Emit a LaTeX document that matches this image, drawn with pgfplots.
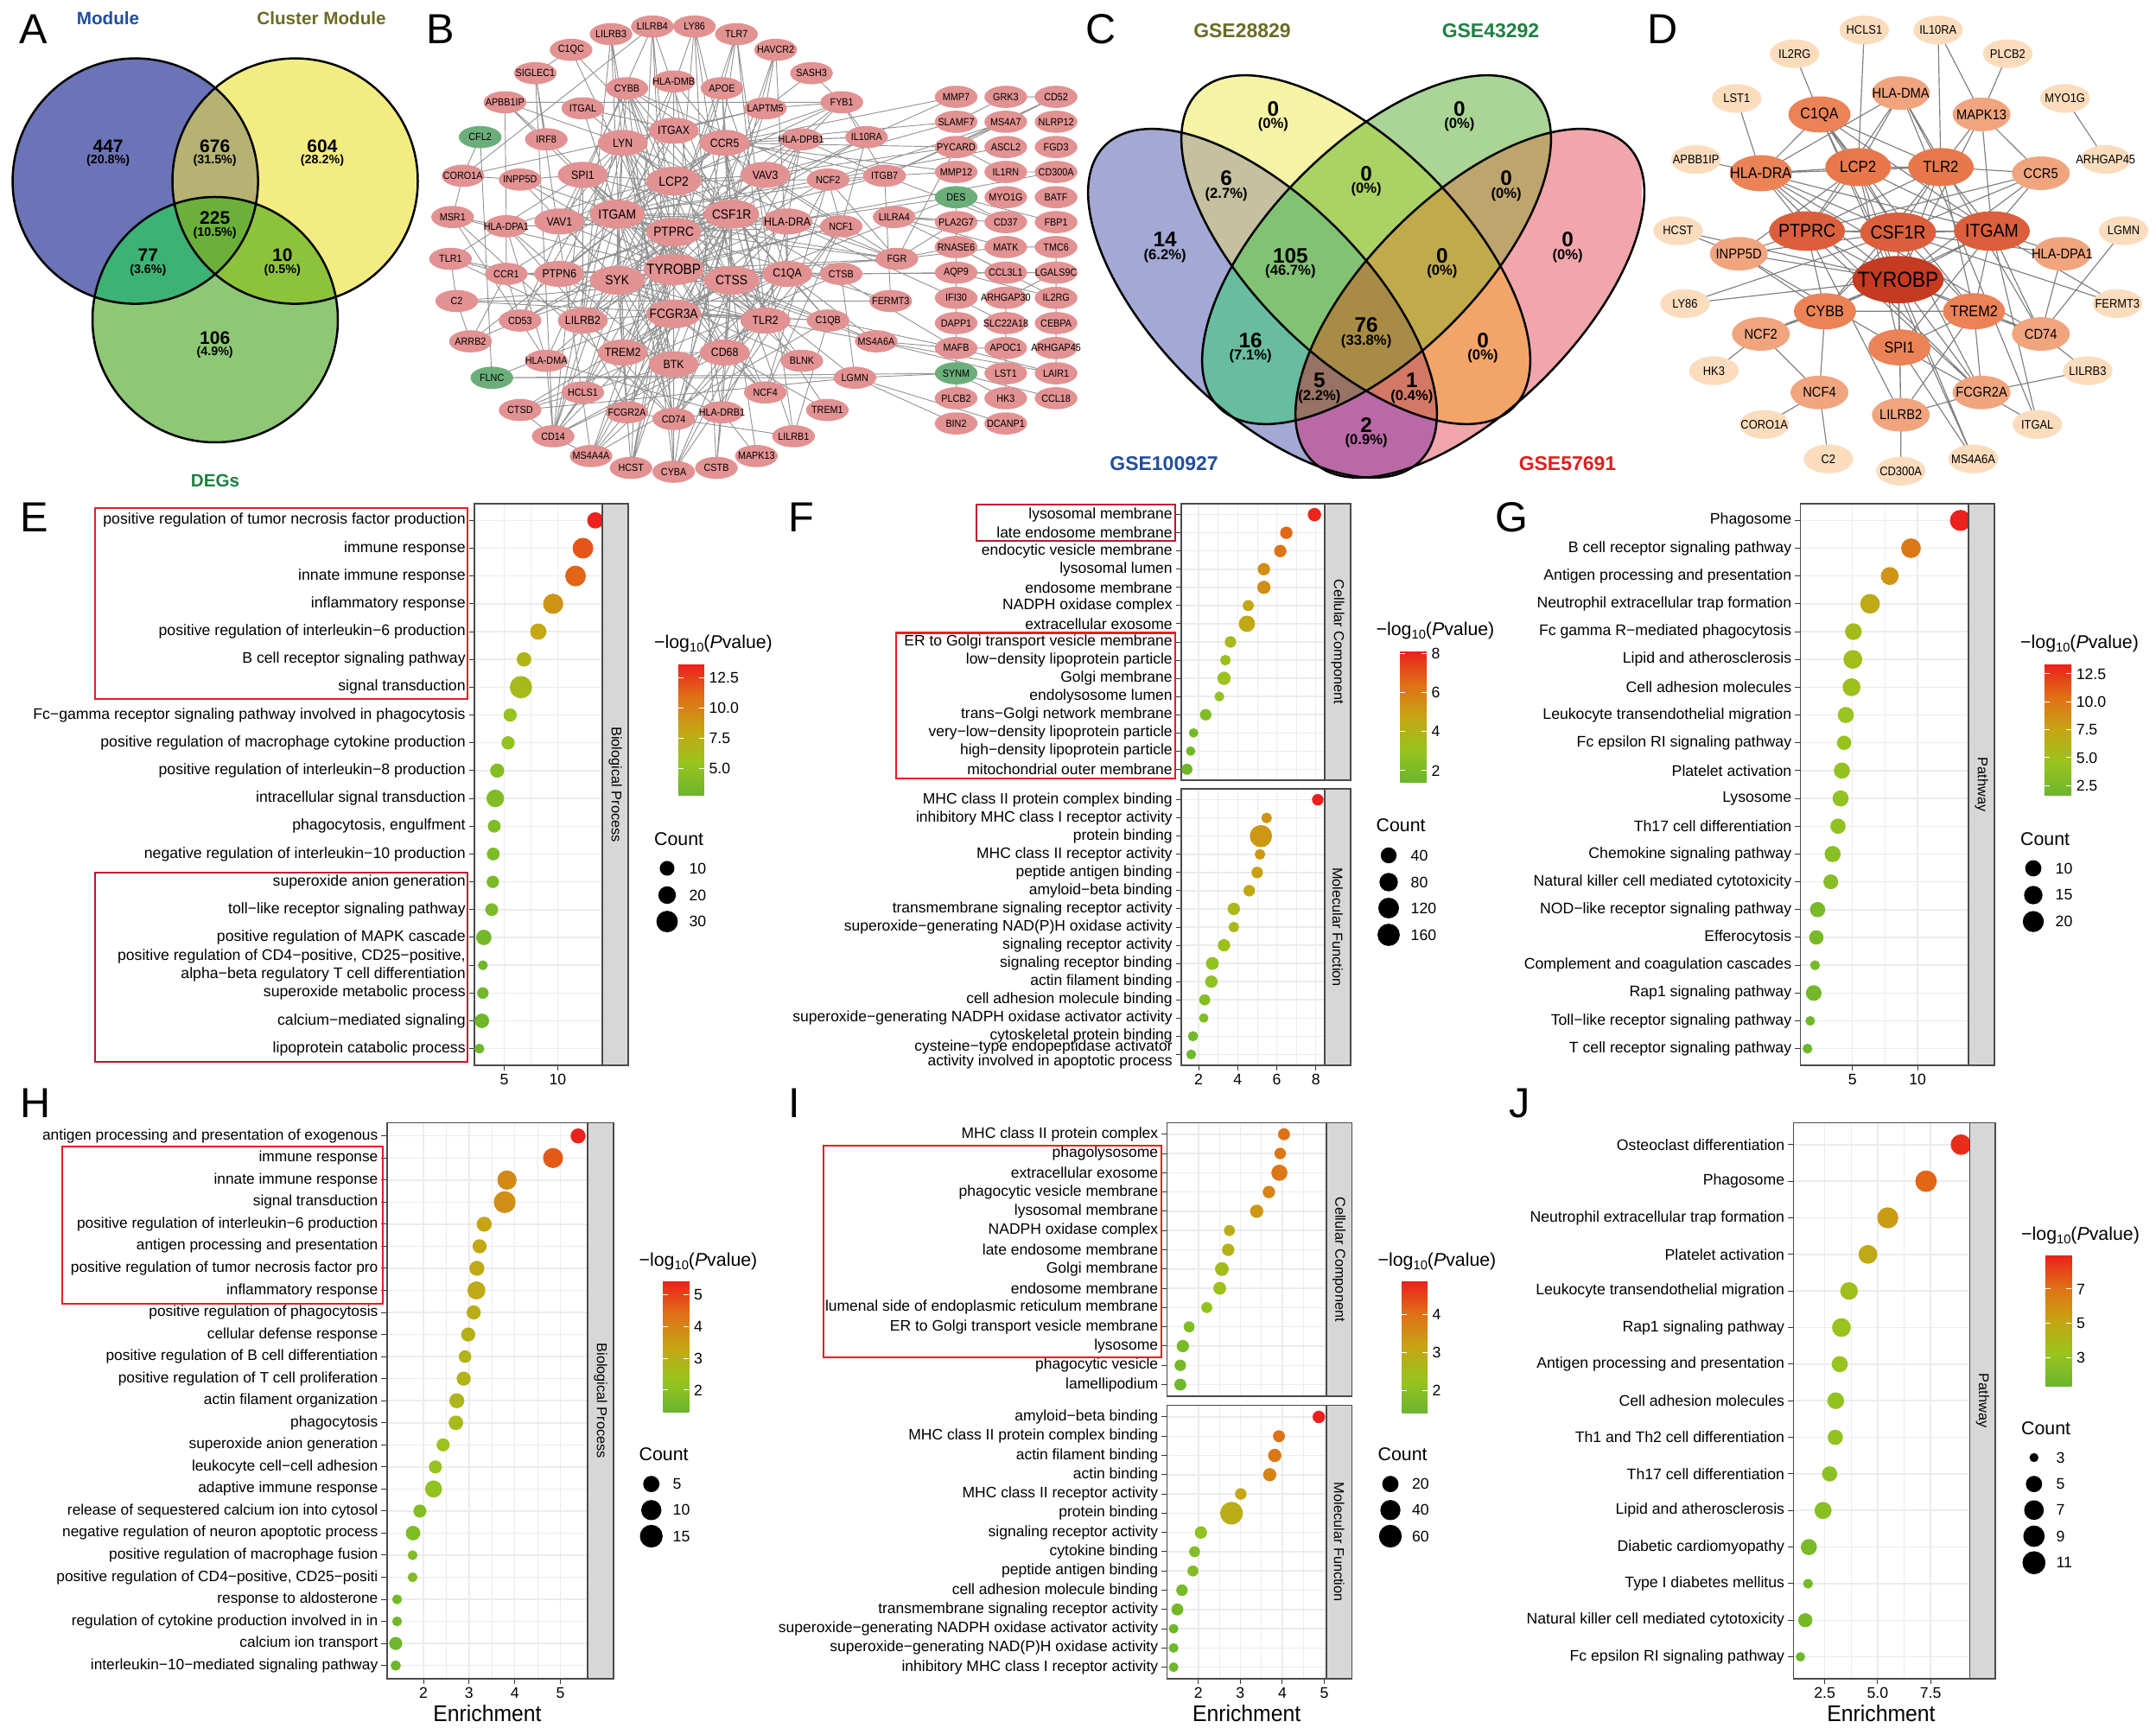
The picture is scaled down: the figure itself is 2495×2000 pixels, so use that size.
\documentclass[border=0pt]{standalone}
\usepackage{fontspec}
\setmainfont{Liberation Sans}
\newfontfamily\fa[FakeStretch=0.94]{Liberation Sans}
\newfontfamily\netf[FakeStretch=0.9]{Liberation Sans}
\usepackage{pgfplots}
\usepackage{pgfplotstable}
\pgfplotsset{compat=1.18}

% colours
\definecolor{pinkn}{RGB}{226,146,146}
\definecolor{greenn}{RGB}{107,174,122}
\definecolor{framec}{RGB}{74,74,74}
\definecolor{stripc}{RGB}{215,215,215}
\definecolor{gridc}{RGB}{236,236,236}
\definecolor{boxa}{RGB}{232,28,36}
\definecolor{boxb}{RGB}{196,18,48}
\pgfplotsset{colormap={gp}{rgb255=(106,181,45) rgb255=(152,196,30) rgb255=(198,165,20) rgb255=(224,112,22) rgb255=(235,32,28)}}

% network helpers: node table and edges are kept by gene name
\pgfdeclareplotmark{ell}{\pgfpathellipse{\pgfpointorigin}{\pgfqpoint{\pgfplotmarksize}{0pt}}{\pgfqpoint{0pt}{0.52\pgfplotmarksize}}\pgfusepathqfill}
\pgfdeclareplotmark{ellr}{\pgfpathellipse{\pgfpointorigin}{\pgfqpoint{\pgfplotmarksize}{0pt}}{\pgfqpoint{0pt}{0.58\pgfplotmarksize}}\pgfusepathqfill}
\newcommand\nd[5]{%
  \expandafter\gdef\csname n#1@#3\endcsname{(#4,#5)}%
  \expandafter\ifx\csname g#1#2\endcsname\relax\expandafter\gdef\csname g#1#2\endcsname{}\fi
  \expandafter\xdef\csname g#1#2\endcsname{\csname g#1#2\endcsname (#4,#5) [#3]}}
\def\ndloop#1#2#3/#4/#5,{\ifx\relax#3\let\nx\relax\else\nd{#1}{#2}{#3}{#4}{#5}\def\nx{\ndloop{#1}{#2}}\fi\nx}
\newcommand\ndrow[3]{\ndloop{#1}{#2}#3,\relax/0/0,}
\def\hubloop#1#2#3,{\ifx\relax#3\let\nx\relax\else
  \expandafter\xdef\csname e#1\endcsname{\csname e#1\endcsname \csname n#1@#2\endcsname \csname n#1@#3\endcsname (0,nan) }%
  \def\nx{\hubloop{#1}{#2}}\fi\nx}
\newcommand\hub[3]{\hubloop{#1}{#2}#3,\relax,}
\gdef\eB{}\gdef\eD{}
\newcommand\drawedges[2]{\edef\tmp{\noexpand\addplot[#2, forget plot, unbounded coords=jump, no marks] coordinates {\csname e#1\endcsname};}\tmp}
\newcommand\drawnodes[5][ell]{\pgfmathsetmacro\ms{#4*0.3}%
  \edef\tmp{\noexpand\addplot[only marks, mark=#1, mark size=\ms pt, color=#3, mark options={fill=#3,draw=none}, point meta=explicit symbolic, nodes near coords, nodes near coords align={anchor=center}, every node near coord/.append style={inner sep=0pt,black,font=\noexpand\netf\noexpand\fontsize{#5}{#5}\noexpand\selectfont}] coordinates {\csname g#2\endcsname};}\tmp}

% panel B nodes (digitised positions)
\ndrow{B}{S}{LILRB3/887/107,LILRB4/947/83,LY86/1008/83,TLR7/1069/107,C1QC/829/156,HAVCR2/1126/156,SIGLEC1/777/229,SASH3/1178/229,APBB1IP/733/320,ITGAL/846/339,CYBB/910/276,HLA-DMB/978/255,APOE/1048/276,LAPTM5/1111/339,FYB1/1222/320,IL10RA/1258/429,IRF8/793/436,HLA-DPB1/1163/436,CORO1A/672/550,INPP5D/755/562,NCF2/1202/562,ITGB7/1284/550,MSR1/657/679,HLA-DPA1/735/708,NCF1/1221/708,LILRA4/1298/679,TLR1/654/810,CCR1/735/857,CTSB/1221/857,FGR/1302/810,C2/663/942,FERMT3/1293/942,ARRB2/683/1068,CD53/755/1003,C1QB/1202/1003,MS4A6A/1272/1068,HLA-DMA/793/1129,BLNK/1164/1129,LGMN/1241/1182,CTSD/755/1283,HCLS1/846/1228,NCF4/1111/1228,TREM1/1201/1283,FCGR2A/910/1290,HLA-DRB1/1048/1290,CD74/978/1311,CD14/803/1365,LILRB1/1152/1365,MS4A4A/858/1427,MAPK13/1098/1427,HCST/916/1464,CSTB/1040/1464,CYBA/978/1476}
\ndrow{B}{S}{MMP7/1388/303,GRK3/1460/303,CD52/1533/303,SLAMF7/1388/381,MS4A7/1460/381,NLRP12/1533/381,PYCARD/1388/460,ASCL2/1460/460,FGD3/1533/460,MMP12/1388/538,IL1RN/1460/538,CD300A/1533/538,MYO1G/1460/617,BATF/1533/617,PLA2G7/1388/695,CD37/1460/695,FBP1/1533/695,RNASE6/1388/773,MATK/1460/773,TMC6/1533/773,AQP9/1388/853,CCL3L1/1460/853,LGALS9C/1533/853,IFI30/1388/932,ARHGAP30/1460/932,IL2RG/1533/932,DAPP1/1388/1011,SLC22A18/1460/1011,CEBPA/1533/1011,MAFB/1388/1089,APOC1/1460/1089,ARHGAP45/1533/1089,LST1/1460/1168,LAIR1/1533/1168,PLCB2/1388/1246,HK3/1460/1246,CCL18/1533/1246,BIN2/1388/1325,DCANP1/1460/1325}
\ndrow{B}{G}{CFL2/697/429,FLNC/714/1182,DES/1388/617,SYNM/1388/1168}
\ndrow{B}{M}{VAV3/1111/547,SPI1/846/547,LYN/904/447,ITGAX/978/409,CCR5/1052/447,VAV1/812/693,HLA-DRA/1143/693,PTPN6/812/857,C1QA/1143/857,LILRB2/846/1003,TLR2/1111/1003,TREM2/904/1103,BTK/978/1140,CD68/1052/1103}
\ndrow{B}{L}{LCP2/978/567,ITGAM/896/670,CSF1R/1062/670,PTPRC/978/726,SYK/896/877,CTSS/1062/877,FCGR3A/978/982}
\ndrow{B}{X}{TYROBP/978/843}
% panel B edges
\hub{B}{TYROBP}{CSF1R,PTPRC,ITGAM,SYK,LCP2,CTSS,FCGR3A,C1QA,TLR2,SPI1,LYN,ITGAX,CCR5,VAV1,HLA-DRA,PTPN6,LILRB2,TREM2,CD68,BTK,CD74,CYBB,HCST,CD14,C1QB,C1QC,FCGR2A,MS4A6A,MS4A4A,LILRB4,LY86,TLR7,NCF1,NCF4,NCF2,INPP5D,HLA-DMB,FGR,CTSB,CD53,LAPTM5,CCR1,MSR1}
\hub{B}{CSF1R}{PTPRC,ITGAM,SYK,LCP2,CTSS,FCGR3A,TLR2,SPI1,LYN,ITGAX,CCR5,VAV1,HLA-DRA,PTPN6,LILRB2,TREM2,CD68,BTK,CD74,CYBB,C1QA,C1QB,FCGR2A,APOE,IL10RA,FYB1,LAPTM5,ITGB7,CD53,MAFB}
\hub{B}{PTPRC}{ITGAM,SYK,LCP2,FCGR3A,TLR2,LYN,ITGAX,VAV1,HLA-DRA,PTPN6,LILRB2,CD68,BTK,CD74,CYBB,VAV3,NCF1,HCST,FGR,HCLS1,CD53,INPP5D,FYB1,IL10RA}
\hub{B}{ITGAM}{SYK,LCP2,CTSS,FCGR3A,TLR2,SPI1,LYN,ITGAX,CCR5,VAV1,VAV3,HLA-DRA,PTPN6,TREM2,CD68,BTK,CD74,CD14,ITGAL,ITGB7,CYBB,FGR,FERMT3,NCF2}
\hub{B}{SYK}{LCP2,FCGR3A,TLR2,LYN,ITGAX,VAV1,VAV3,PTPN6,LILRB2,TREM2,BTK,CD74,BLNK,FCGR2A,FGR,HCLS1,INPP5D,NCF1}
\hub{B}{LCP2}{FCGR3A,LYN,VAV1,VAV3,PTPN6,BTK,HCLS1,ITGAL,FYB1,BLNK,CCR5,NCF2,SPI1}
\hub{B}{FCGR3A}{CTSS,TLR2,LYN,ITGAX,HLA-DRA,LILRB2,TREM2,CD68,BTK,CD74,C1QA,C1QB,FCGR2A,HCST,CYBA,NCF4,CD14,MS4A4A}
\hub{B}{TLR2}{CTSS,LYN,SPI1,CCR5,HLA-DRA,CD68,BTK,CD14,C1QA,LY86,TLR1,TLR7,CD74,HLA-DRB1,TREM1,NCF1,MS4A6A}
\hub{B}{CTSS}{C1QA,C1QB,CD68,CD74,HLA-DRA,CTSB,CTSD,LGMN,HLA-DRB1,CYBB,TREM2,APOE}
\hub{B}{C1QA}{C1QB,C1QC,CD68,TREM2,APOE,HLA-DRA,CD74,MS4A6A,MS4A4A,HAVCR2,CTSB}
\hub{B}{SPI1}{LYN,CYBB,VAV1,IRF8,LILRB2,TLR1,BLNK,INPP5D,CD14}
\hub{B}{LYN}{BTK,VAV1,PTPN6,FGR,LILRB2,ITGAX,LILRB3,LAPTM5,CD53,APBB1IP}
\hub{B}{CFL2}{CORO1A,FLNC}
\hub{B}{CORO1A}{INPP5D,LAPTM5,LILRB4,MSR1}
\hub{B}{APBB1IP}{FYB1,IRF8,ITGAM,HLA-DPA1}
\hub{B}{SIGLEC1}{C1QC,IRF8,CD14,MS4A4A}
\hub{B}{LILRB3}{LILRB2,CD74,FCGR2A}
\hub{B}{LILRB4}{LILRB1,HCST,CD53,CYBA}
\hub{B}{LY86}{CSTB,CD14,MAPK13}
\hub{B}{TLR7}{MS4A4A,LILRB1,CYBA}
\hub{B}{HAVCR2}{LAPTM5,CD74,HCST}
\hub{B}{SASH3}{FYB1,LAPTM5}
\hub{B}{FYB1}{LAPTM5,IL10RA,ITGB7,CCR5}
\hub{B}{IL10RA}{HLA-DPB1,CCR5,NCF1,MMP7}
\hub{B}{MSR1}{HLA-DPA1,CD74,HLA-DMA}
\hub{B}{HLA-DPA1}{HLA-DRA,HLA-DMA,HLA-DPB1,CD74,HLA-DRB1,CCR1}
\hub{B}{HLA-DMB}{HLA-DMA,CD74,HLA-DRB1,HLA-DRA}
\hub{B}{HLA-DPB1}{CD74,HLA-DRA,HLA-DRB1,HLA-DMA,ITGB7}
\hub{B}{TLR1}{C2,CCR1,LILRB2}
\hub{B}{C2}{C1QB,C1QA,ARRB2,FERMT3}
\hub{B}{ARRB2}{CCR1,CCR5,CD53}
\hub{B}{CCR1}{CCR5,PTPN6,CD53}
\hub{B}{NCF1}{NCF2,NCF4,CYBA,CYBB}
\hub{B}{NCF2}{NCF4,CYBA,CYBB,ITGB7,FGR}
\hub{B}{CYBB}{CYBA,NCF4,CD14}
\hub{B}{CTSB}{AQP9,LGALS9C,CTSD,LGMN}
\hub{B}{FLNC}{SYNM,LGMN,DES}
\hub{B}{LGMN}{BIN2,DCANP1,SYNM,CTSD}
\hub{B}{MS4A6A}{MAFB,LAIR1,C1QB,LST1}
\hub{B}{C1QB}{MAFB,MS4A4A,LILRB1}
\hub{B}{HCLS1}{CTSD,CD14,BTK}
\hub{B}{TREM2}{HCST,CD68,FCGR2A,LILRB2,APOE}
\hub{B}{CD68}{CD14,CYBA,NCF4,TREM1,CSTB}
\hub{B}{FCGR2A}{MS4A4A,HCST,LILRB1,LILRB2}
\hub{B}{HLA-DRB1}{CD74,HLA-DMA,CSTB,MAPK13}
\hub{B}{CD14}{CTSD,MS4A4A,HLA-DMA}
\hub{B}{ITGB7}{MMP12,CD52,MS4A7,ITGAL,FERMT3,CD37}
\hub{B}{VAV3}{SLAMF7,PYCARD,FGR}
\hub{B}{NCF2}{ASCL2,MS4A7}
\hub{B}{LILRA4}{RNASE6,PLA2G7,CD37,MATK}
\hub{B}{FGR}{PLA2G7,RNASE6,HLA-DRA,MATK,PYCARD}
\hub{B}{CCR5}{SLAMF7,MMP7,MMP12,PYCARD}
\hub{B}{DES}{SYNM,FBP1,CD37}
\hub{B}{HLA-DRA}{DES,CD300A,IFI30}
\hub{B}{AQP9}{CCL3L1,IL2RG}
\hub{B}{RNASE6}{CCL3L1,IL2RG,IFI30}
\hub{B}{TMC6}{CEBPA,MATK}
\hub{B}{GRK3}{SLAMF7,CD52}
\hub{B}{MS4A7}{PYCARD,CD52}
\hub{B}{IL1RN}{CD300A,PYCARD}
\hub{B}{LST1}{HK3,ARHGAP30}
\hub{B}{MAFB}{APOC1,LAIR1,SYNM,DAPP1,PLCB2}
\hub{B}{SYNM}{HK3,CCL18}
\hub{B}{IFI30}{DAPP1,SLC22A18}
\hub{B}{CEBPA}{ARHGAP45,LAIR1}
\hub{B}{ARHGAP30}{APOC1,LGALS9C}

% panel D nodes
\ndrow{D}{X}{TYROBP/1186/875}
\ndrow{D}{L}{CSF1R/1186/727,PTPRC/1054/723,ITGAM/1322/723}
\ndrow{D}{M}{LCP2/1128/523,TLR2/1248/523}
\ndrow{D}{N}{HLA-DRA/987/542,C1QA/1072/358,CYBB/1080/974,SPI1/1188/1087,TREM2/1296/974}
\ndrow{D}{P}{CCR5/1393/542,INPP5D/955/794,HLA-DPA1/1424/794,CD74/1393/1045,NCF2/987/1045,NCF4/1072/1228,LILRB2/1190/1298,FCGR2A/1307/1228,MAPK13/1307/358,HLA-DMA/1190/291}
\ndrow{D}{S}{HCLS1/1137/94,IL10RA/1244/94,IL2RG/1036/168,PLCB2/1345/168,LST1/952/308,MYO1G/1428/308,APBB1IP/893/499,ARHGAP45/1487/499,HCST/867/722,LGMN/1513/722,LY86/877/950,FERMT3/1504/950,HK3/919/1160,LILRB3/1461/1160,CORO1A/992/1328,ITGAL/1388/1328,C2/1085/1436,MS4A6A/1295/1436,CD300A/1190/1474}
% panel D edges
\hub{D}{TYROBP}{CSF1R,PTPRC,ITGAM,LCP2,TLR2,HLA-DRA,INPP5D,LY86,CYBB,TREM2,SPI1,LILRB2,FCGR2A,CD74,NCF2,HCST,MS4A6A,C1QA,CCR5,MAPK13}
\hub{D}{CSF1R}{PTPRC,ITGAM,LCP2,TLR2,HLA-DRA,INPP5D,LY86,CYBB,TREM2,SPI1,LILRB2,CCR5,FERMT3,FCGR2A,HLA-DPA1,C1QA}
\hub{D}{PTPRC}{LCP2,TLR2,HLA-DRA,INPP5D,CYBB,LILRB2,CCR5,FCGR2A,ITGAM,HLA-DMA}
\hub{D}{ITGAM}{LCP2,TLR2,HLA-DRA,HLA-DPA1,CYBB,TREM2,SPI1,CD74,ITGAL,CCR5,C1QA,FERMT3,MAPK13}
\hub{D}{LCP2}{TLR2,HLA-DRA,C1QA,HCLS1,INPP5D,SPI1,HLA-DMA}
\hub{D}{TLR2}{HLA-DRA,C1QA,IL10RA,MAPK13,CCR5,TREM2,HLA-DMA,CYBB}
\hub{D}{HLA-DRA}{APBB1IP,HLA-DMA,CD74,C1QA,LST1,FCGR2A}
\hub{D}{CYBB}{NCF2,NCF4,INPP5D,TREM2}
\hub{D}{TREM2}{LILRB2,FCGR2A,SPI1,CD74,C1QA}
\hub{D}{SPI1}{LILRB2,INPP5D,MS4A6A,FCGR2A}
\hub{D}{FCGR2A}{LILRB2,LILRB3,ITGAL}
\hub{D}{C1QA}{IL2RG,MS4A6A}
\hub{D}{HLA-DMA}{CD74,ITGAL}
\hub{D}{MAPK13}{PLCB2,IL10RA,CCR5}
\hub{D}{NCF4}{NCF2,CORO1A,C2}
\hub{D}{NCF2}{HK3}
\hub{D}{CD74}{LILRB3,LGMN,HLA-DPA1}
\hub{D}{INPP5D}{HCST}
\hub{D}{MYO1G}{ARHGAP45}
\hub{D}{LILRB2}{CD300A}

% data: enrichment, -log10 P, dot diameter in picture pixels, term
\pgfplotstableread[col sep=semicolon]{
e;logp;d;term
13.52;13.5;17.5;positive regulation of tumor necrosis factor production
12.36;11.8;22.6;immune response
11.67;11.3;22.6;innate immune response
9.58;9.0;22;inflammatory response
8.19;8.0;17.5;positive regulation of interleukin−6 production
6.85;6.8;15.5;B cell receptor signaling pathway
6.57;6.3;24.5;signal transduction
5.56;5.3;14;Fc−gamma receptor signaling pathway involved in phagocytosis
5.37;5.1;14;positive regulation of macrophage cytokine production
4.35;4.3;15;positive regulation of interleukin−8 production
4.17;4.1;19;intracellular signal transduction
4.07;4.0;13.5;phagocytosis, engulfment
3.98;3.9;13.5;negative regulation of interleukin−10 production
3.94;3.8;13;superoxide anion generation
3.84;3.8;13.5;toll−like receptor signaling pathway
3.10;3.3;16.5;positive regulation of MAPK cascade
3.01;3.2;10;positive regulation of CD4−positive, CD25−positive,\\alpha−beta regulatory T cell differentiation
3.01;3.2;12;superoxide metabolic process
2.92;3.1;15.5;calcium−mediated signaling
2.69;3.0;10;lipoprotein catabolic process
}\tabE
\pgfplotstableread[col sep=semicolon]{
e;logp;d;term
7.93;8.0;14.1;lysosomal membrane
6.49;6.6;13;late endosome membrane
6.18;6.3;13;endocytic vesicle membrane
5.34;5.5;13;lysosomal lumen
5.34;5.4;14;endosome membrane
4.54;4.6;11.5;NADPH oxidase complex
4.47;4.6;17.5;extracellular exosome
3.63;3.7;12;ER to Golgi transport vesicle membrane
3.37;3.3;11;low−density lipoprotein particle
3.30;3.2;14;Golgi membrane
3.06;2.9;10;endolysosome lumen
2.36;2.2;12;trans−Golgi network membrane
1.74;1.8;9.5;very−low−density lipoprotein particle
1.59;1.7;9.5;high−density lipoprotein particle
1.40;1.5;11.5;mitochondrial outer membrane
}\tabFa
\pgfplotstableread[col sep=semicolon]{
e;logp;d;term
8.10;8.1;12;MHC class II protein complex binding
5.48;5.3;11;inhibitory MHC class I receptor activity
5.19;5.2;24.4;protein binding
5.14;5.1;11;MHC class II receptor activity
5.00;5.0;12;peptide antigen binding
4.59;4.6;12;amyloid−beta binding
3.80;3.8;13;transmembrane signaling receptor activity
3.80;3.8;11;superoxide−generating NAD(P)H oxidase activity
3.30;3.3;13;signaling receptor activity
2.70;2.8;13.5;signaling receptor binding
2.65;2.7;13;actin filament binding
2.31;2.4;11.5;cell adhesion molecule binding
2.26;2.3;9.5;superoxide−generating NADPH oxidase activator activity
1.71;1.7;10.5;cytoskeletal protein binding
1.62;1.6;10;cysteine−type endopeptidase activator\\[-1.4pt]activity involved in apoptotic process
}\tabFb
\pgfplotstableread[col sep=semicolon]{
e;logp;d;term
13.28;13.3;23;Phagosome
9.49;10.0;21.4;B cell receptor signaling pathway
7.86;8.3;19.4;Antigen processing and presentation
6.35;7.0;21.4;Neutrophil extracellular trap formation
5.07;5.3;18;Fc gamma R−mediated phagocytosis
5.03;5.2;20.4;Lipid and atherosclerosis
4.93;5.0;19.4;Cell adhesion molecules
4.49;4.6;17.3;Leukocyte transendothelial migration
4.36;4.4;15.3;Fc epsilon RI signaling pathway
4.19;4.3;17.3;Platelet activation
4.09;4.1;17.3;Lysosome
3.89;4.0;16.3;Th17 cell differentiation
3.48;3.5;17.3;Chemokine signaling pathway
3.34;3.4;15.8;Natural killer cell mediated cytotoxicity
2.33;2.5;16.3;NOD−like receptor signaling pathway
2.23;2.4;15.3;Efferocytosis
2.13;2.3;10;Complement and coagulation cascades
2.03;2.2;16.8;Rap1 signaling pathway
1.76;2.0;9.7;Toll−like receptor signaling pathway
1.55;1.8;10;T cell receptor signaling pathway
}\tabG
\pgfplotstableread[col sep=semicolon]{
e;logp;d;term
5.39;5.4;16;antigen processing and presentation of exogenous
4.84;4.7;21.8;immune response
3.83;3.9;21;innate immune response
3.78;3.8;24;signal transduction
3.33;3.4;16;positive regulation of interleukin−6 production
3.23;3.3;15;antigen processing and presentation
3.17;3.2;16;positive regulation of tumor necrosis factor pro
3.16;3.2;19.5;inflammatory response
3.10;3.1;15;positive regulation of phagocytosis
2.98;3.0;15;cellular defense response
2.91;2.9;13.2;positive regulation of B cell differentiation
2.88;2.9;15;positive regulation of T cell proliferation
2.73;2.8;16;actin filament organization
2.71;2.7;15.5;phagocytosis
2.43;2.4;13.8;superoxide anion generation
2.26;2.3;13.8;leukocyte cell−cell adhesion
2.22;2.2;18.4;adaptive immune response
1.92;1.9;13.8;release of sequestered calcium ion into cytosol
1.77;1.8;15.5;negative regulation of neuron apoptotic process
1.76;1.8;10;positive regulation of macrophage fusion
1.76;1.8;10;positive regulation of CD4−positive, CD25−positi
1.42;1.5;10;response to aldosterone
1.42;1.5;10;regulation of cytokine production involved in in
1.39;1.4;13.8;calcium ion transport
1.39;1.4;10.5;interleukin−10−mediated signaling pathway
}\tabH
\pgfplotstableread[col sep=semicolon]{
e;logp;d;term
4.04;4.0;12.5;MHC class II protein complex
3.95;3.9;12;phagolysosome
3.93;3.9;17.3;extracellular exosome
3.68;3.7;13;phagocytic vesicle membrane
3.39;3.4;14;lysosomal membrane
2.74;2.9;11.4;NADPH oxidase complex
2.71;2.8;13;late endosome membrane
2.56;2.5;14.6;Golgi membrane
2.51;2.4;13.5;endosome membrane
2.20;2.2;11.4;lumenal side of endoplasmic reticulum membrane
1.78;1.8;11.4;ER to Golgi transport vesicle membrane
1.63;1.7;13;lysosome
1.57;1.6;12;phagocytic vesicle
1.57;1.5;12.5;lamellipodium
}\tabIa
\pgfplotstableread[col sep=semicolon]{
e;logp;d;term
4.87;4.9;13;amyloid−beta binding
3.92;4.0;12.5;MHC class II protein complex binding
3.82;3.9;14;actin filament binding
3.70;3.7;14;actin binding
3.01;3.1;12;MHC class II receptor activity
2.79;2.9;25;protein binding
2.06;2.1;13;signaling receptor activity
1.91;1.9;11.4;cytokine binding
1.87;1.9;11.4;peptide antigen binding
1.61;1.7;12;cell adhesion molecule binding
1.50;1.6;12.5;transmembrane signaling receptor activity
1.41;1.5;9.8;superoxide−generating NADPH oxidase activator activity
1.41;1.5;9.8;superoxide−generating NAD(P)H oxidase activity
1.41;1.5;9.8;inhibitory MHC class I receptor activity
}\tabIb
\pgfplotstableread[col sep=semicolon]{
e;logp;d;term
8.94;8.7;22.4;Osteoclast differentiation
7.29;7.3;23.5;Phagosome
5.48;5.5;23;Neutrophil extracellular trap formation
4.54;4.9;20.4;Platelet activation
3.65;3.6;19;Leukocyte transendothelial migration
3.29;3.4;20.4;Rap1 signaling pathway
3.21;3.2;17.3;Antigen processing and presentation
3.02;3.0;18;Cell adhesion molecules
3.00;3.0;16.3;Th1 and Th2 cell differentiation
2.73;2.8;16.3;Th17 cell differentiation
2.42;2.6;18.4;Lipid and atherosclerosis
1.75;2.0;17.3;Diabetic cardiomyopathy
1.71;1.9;10;Type I diabetes mellitus
1.58;1.8;15;Natural killer cell mediated cytotoxicity
1.35;1.6;9.5;Fc epsilon RI signaling pathway
}\tabJ
% Count legend dots: page x, page y, diameter
\pgfplotstableread{
x y d
772 1005 15.7
772 1036 19
772 1066.6 23.5
1607 990 17
1607 1021 20
1607 1051 22.6
1607 1082 24.4
2353 1005 17.4
2353 1036 20
2353 1066.6 23
753.7 1717.6 17.5
753.7 1747.8 22
753.7 1778 25
1609 1717.6 17.5
1609 1747.8 22
1609 1778 25
2353.8 1687 9
2353.8 1717.6 17.5
2353.8 1747.8 21.4
2353.8 1778 23.4
2353.8 1808.7 25.3
}\tabCount

\pgfplotsset{dotbase/.style={
  scale only axis, anchor=north west, y dir=reverse, ymin=0.4, clip=true,
  axis line style={draw=framec,line width=.5pt},
  ymajorgrids, xmajorgrids, xminorgrids, minor x tick num=1,
  grid style={draw=gridc,line width=.45pt}, minor grid style={draw=gridc,line width=.25pt},
  tick align=outside, major tick length=1.9pt, minor tick length=0pt,
  tick style={draw=black!80,line width=.3pt}, xtick pos=bottom, ytick pos=left,
  xticklabel style={font=\fontsize{5.3}{6}\selectfont,inner sep=1pt,/pgf/number format/assume math mode=true},
  yticklabel style={align=right,inner sep=0pt,xshift=-1pt},
  xlabel={}, ylabel={}}}
% [opts]{x0}{y0}{x1}{y1}{meta min}{meta max}{table}
\newcommand\dotpanel[8][]{%
  \pgfmathsetmacro\pw{(#4-#2)*0.3}\pgfmathsetmacro\ph{(#5-#3)*0.3}%
  \pgfplotstablegetrowsof{#8}\pgfmathsetmacro\pn{\pgfplotsretval+0.6}%
  \begin{axis}[dotbase, at={({#2*0.3pt},{-#3*0.3pt})}, width=\pw pt, height=\ph pt, ymax=\pn,
    ytick={1,...,30}, yticklabels from table={#8}{term}, #1]
    \addplot[scatter, only marks, mark=*, scatter src=explicit, colormap name=gp,
      point meta min=#6, point meta max=#7,
      scatter/use mapped color={draw=mapped color,fill=mapped color},
      visualization depends on={\thisrow{d}*0.15 \as \ms},
      scatter/@pre marker code/.append style={/tikz/mark size=\ms}]
      table[x=e, y expr=\coordindex+1, meta=logp]{#8};
  \end{axis}}
\newcommand\strip[5]{\draw[draw=framec,line width=.5pt,fill=stripc] (#1,#2) rectangle (#3,#4);
  \node[rotate=-90,inner sep=0pt,font=\fontsize{4.9}{5}\selectfont] at ({(#1+#3)/2},{(#2+#4)/2}) {#5};}
% {x0}{y0}{x1}{y1}{min}{max}{ticks}{precision}
\newcommand\cbar[8]{%
  \pgfmathsetmacro\pw{(#3-#1)*0.3}\pgfmathsetmacro\ph{(#4-#2)*0.3}%
  \pgfplotscolorbardrawstandalone[colormap name=gp, point meta min=#5, point meta max=#6,
    colorbar style={at={({#1*0.3pt},{-#2*0.3pt})}, anchor=north west, scale only axis, width=\pw pt, height=\ph pt,
      ytick={#7}, yticklabel pos=right, ytick pos=both, tick align=inside, major tick length=1.8pt,
      tick style={draw=white,line width=.3pt}, axis line style={draw=none},
      yticklabel style={font=\fontsize{5.3}{6}\selectfont,inner sep=1.5pt,/pgf/number format/assume math mode=true,/pgf/number format/fixed,/pgf/number format/fixed zerofill,/pgf/number format/precision=#8}}]}
\newcommand\legtitle[3]{%
  \node[anchor=west,inner sep=0pt,font=\fontsize{6.4}{7}\selectfont] at (#1,#2) {−log\raisebox{-0.35ex}{\fontsize{4.4}{5}\selectfont 10}(\textit{P}value)};
  \node[anchor=west,inner sep=0pt,font=\fontsize{6.4}{7}\selectfont] at (#1,#3) {Count};}
\newcommand\cl[3]{\node[anchor=west,inner sep=0pt,font=\fontsize{5.3}{6}\selectfont] at (#1,#2) {#3};}
\newcommand\plet[3]{\node[anchor=west,inner sep=0pt,font=\fontsize{14.6}{15}\selectfont] at (#1,#2) {#3};}
\newcommand\vtA[4]{\node[font=\bfseries\fontsize{6.3}{7}\selectfont] at (#1,#2) {#3};\node[font=\bfseries\fontsize{4.3}{5}\selectfont] at (#1,#2+46) {#4};}
\newcommand\vtC[4]{\node[font=\bfseries\fontsize{7.3}{8}\selectfont] at (#1,#2) {#3};\node[font=\bfseries\fontsize{5}{6}\selectfont] at (#1,#2+50) {#4};}
\newcommand\reg[2]{\begin{scope}#1\fill[fill={rgb,255:#2}] (1200,50) rectangle (1900,600);\end{scope}}
\newcommand\clipA{\clip[rotate around={-45:(1461,351)}] (1461,351) ellipse (258 and 122);}
\newcommand\clipB{\clip[rotate around={-45:(1569,289)}] (1569,289) ellipse (258 and 122);}
\newcommand\clipC{\clip[rotate around={45:(1593,289)}] (1593,289) ellipse (258 and 122);}
\newcommand\clipD{\clip[rotate around={45:(1701,351)}] (1701,351) ellipse (258 and 122);}
\begin{document}
\begin{tikzpicture}[x=0.3pt,y=-0.3pt]
\path[use as bounding box] (0,0) rectangle (2495,2000);

% --- A
\def\ca{(156.6,209.6) circle[radius=142]}
\def\cb{(341.5,209.6) circle[radius=142]}
\def\cc{(249,370) circle[radius=142]}
\fill[fill={rgb,255:red,108;green,116;blue,184}] \ca;
\fill[fill={rgb,255:red,243;green,236;blue,130}] \cb;
\fill[fill={rgb,255:red,142;green,200;blue,118}] \cc;
\begin{scope}\clip \ca; \fill[fill={rgb,255:red,181;green,178;blue,116}] \cb; \fill[fill={rgb,255:red,61;green,178;blue,117}] \cc; \end{scope}
\begin{scope}\clip \cb; \fill[fill={rgb,255:red,141;green,195;blue,59}] \cc; \end{scope}
\begin{scope}\clip \ca; \clip \cb; \fill[fill={rgb,255:red,107;green,176;blue,58}] \cc; \end{scope}
\draw[line width=.75pt] \ca \cb \cc;
\begin{scope}[x=0.2391pt,y=-0.111pt]
\vtA{157}{457}{447}{(20.8\%)}\vtA{312}{457}{676}{(31.5\%)}\vtA{468}{457}{604}{(28.2\%)}
\vtA{312}{682}{225}{(10.5\%)}\vtA{215}{799}{77}{(3.6\%)}\vtA{410}{799}{10}{(0.5\%)}\vtA{312}{1057}{106}{(4.9\%)}
\end{scope}
\node[text={rgb,255:red,31;green,78;blue,158},font=\bfseries\fontsize{6.2}{7}\selectfont] at (125,21) {Module};
\node[text={rgb,255:red,107;green,107;blue,36},font=\bfseries\fontsize{6.2}{7}\selectfont] at (372,21) {Cluster Module};
\node[text={rgb,255:red,30;green,128;blue,64},font=\bfseries\fontsize{6.2}{7}\selectfont] at (249,556) {DEGs};

% --- C
\reg{\clipA}{red,164;green,168;blue,212}
\reg{\clipD}{red,241;green,166;blue,172}
\reg{\clipB}{red,245;green,243;blue,165}
\reg{\clipC}{red,170;green,213;blue,150}
\reg{\clipA\clipB}{red,196;green,192;blue,160}
\reg{\clipB\clipC}{red,170;green,210;blue,100}
\reg{\clipC\clipD}{red,190;green,165;blue,110}
\reg{\clipA\clipC}{red,104;green,188;blue,160}
\reg{\clipB\clipD}{red,243;green,165;blue,105}
\reg{\clipA\clipD}{red,185;green,105;blue,165}
\reg{\clipA\clipB\clipC}{red,130;green,195;blue,115}
\reg{\clipB\clipC\clipD}{red,192;green,170;blue,75}
\reg{\clipA\clipC\clipD}{red,150;green,115;blue,100}
\reg{\clipA\clipB\clipD}{red,210;green,120;blue,100}
\reg{\clipA\clipB\clipC\clipD}{red,168;green,140;blue,70}
\foreach \cx/\rt in {1461/-45,1701/45}{\draw[line width=.75pt,rotate around={\rt:(\cx,351)}] (\cx,351) ellipse (258 and 122);}
\foreach \cx/\rt in {1569/-45,1593/45}{\draw[line width=.75pt,rotate around={\rt:(\cx,289)}] (\cx,289) ellipse (258 and 122);}
\begin{scope}[shift={(375pt,0pt)},x=0.2394pt,y=-0.111pt]
\vtC{280}{340}{0}{(0\%)}\vtC{550}{340}{0}{(0\%)}\vtC{123}{750}{14}{(6.2\%)}\vtC{212}{558}{6}{(2.7\%)}
\vtC{415}{543}{0}{(0\%)}\vtC{618}{558}{0}{(0\%)}\vtC{707}{750}{0}{(0\%)}\vtC{305}{800}{105}{(46.7\%)}
\vtC{525}{800}{0}{(0\%)}\vtC{247}{1065}{16}{(7.1\%)}\vtC{415}{1017}{76}{(33.8\%)}\vtC{584}{1065}{0}{(0\%)}
\vtC{347}{1190}{5}{(2.2\%)}\vtC{481}{1190}{1}{(0.4\%)}\vtC{415}{1330}{2}{(0.9\%)}
\end{scope}
\node[text={rgb,255:red,107;green,107;blue,36},font=\bfseries\fontsize{6.9}{8}\selectfont] at (1437.5,36) {GSE28829};
\node[text={rgb,255:red,30;green,128;blue,64},font=\bfseries\fontsize{6.9}{8}\selectfont] at (1725,36) {GSE43292};
\node[text={rgb,255:red,31;green,78;blue,158},font=\bfseries\fontsize{6.9}{8}\selectfont] at (1347,537) {GSE100927};
\node[text={rgb,255:red,217;green,33;blue,29},font=\bfseries\fontsize{6.9}{8}\selectfont] at (1814,537) {GSE57691};

% --- B network
\begin{axis}[hide axis, scale only axis, anchor=north west, at={(0pt,0pt)}, width=375pt, height=174pt,
  xmin=0, xmax=1568, ymin=0, ymax=1568, y dir=reverse, clip=false]
\drawedges{B}{draw=black!42,line width=.28pt}
\drawnodes{BS}{pinkn}{24.7}{3.6}
\drawnodes{BG}{greenn}{24.7}{3.6}
\drawnodes{BM}{pinkn}{29}{4.1}
\drawnodes{BL}{pinkn}{32}{4.6}
\drawnodes{BX}{pinkn}{35}{5.1}
\end{axis}

% --- D network
\definecolor{dx}{RGB}{198,58,34}\definecolor{dl}{RGB}{219,95,60}\definecolor{dm}{RGB}{232,120,74}
\definecolor{dn}{RGB}{235,131,87}\definecolor{dp}{RGB}{241,165,127}\definecolor{ds}{RGB}{251,221,190}
\begin{axis}[hide axis, scale only axis, anchor=north west, at={(375pt,0pt)}, width=373.5pt, height=174pt,
  xmin=0, xmax=1560, ymin=0, ymax=1568, y dir=reverse, clip=false]
\drawedges{D}{draw=black!50,line width=.35pt}
\drawnodes[ellr]{DS}{ds}{28.7}{4.3}
\drawnodes[ellr]{DP}{dp}{33.5}{4.9}
\drawnodes[ellr]{DN}{dn}{36}{5.4}
\drawnodes[ellr]{DM}{dm}{38}{5.6}
\drawnodes{DL}{dl}{44}{6.5}
\drawnodes{DX}{dx}{52.7}{7.6}
\end{axis}

% --- dot panels
\def\lE{\fontsize{5.3}{6.4}\selectfont}
\def\lF{\fontsize{5.25}{6.4}\selectfont}
\def\lH{\fontsize{5.2}{6.4}\selectfont}
\dotpanel[xmin=2.22,xmax=14.17,xtick={5,10},yticklabel style={font=\lE}]{549}{583}{697}{1233}{2.76}{13.6}{\tabE}
\dotpanel[xmin=1.11,xmax=8.456,xtick={2,4,6,8},xticklabels={},xtick style={draw=none},yticklabel style={font=\lF}]{1367}{583}{1533}{903}{1.4}{8.1}{\tabFa}
\dotpanel[xmin=1.11,xmax=8.456,xtick={2,4,6,8},yticklabel style={font=\lF}]{1367}{913}{1533}{1233}{1.4}{8.1}{\tabFb}
\dotpanel[xmin=1.01,xmax=13.92,xtick={5,10},yticklabel style={font=\lE}]{2083.5}{583}{2278.3}{1233}{1.59}{13.38}{\tabG}
\dotpanel[xmin=1.196,xmax=5.598,xtick={2,3,4,5},yticklabel style={font=\lH}]{447.7}{1299.4}{680}{1943}{1.31}{5.43}{\tabH}
\dotpanel[xmin=1.253,xmax=5.045,xtick={2,3,4,5},xticklabels={},xtick style={draw=none},yticklabel style={font=\lF}]{1350.5}{1299.4}{1534.7}{1615.9}{1.41}{4.89}{\tabIa}
\dotpanel[xmin=1.253,xmax=5.045,xtick={2,3,4,5},yticklabel style={font=\lF}]{1350.5}{1626.6}{1534.7}{1943}{1.41}{4.89}{\tabIb}
\dotpanel[xmin=1.02,xmax=9.354,xtick={2.5,5,7.5},xticklabel style={/pgf/number format/fixed,/pgf/number format/fixed zerofill,/pgf/number format/precision=1},yticklabel style={font=\lE}]{2075.4}{1299.4}{2279.4}{1943}{1.34}{9.0}{\tabJ}

\strip{697}{583}{727}{1233}{Biological Process}
\strip{1533}{583}{1563}{903}{Cellular Component}
\strip{1533}{913}{1563}{1233}{Molecular Function}
\strip{2278.3}{583}{2308}{1233}{Pathway}
\strip{680}{1299.4}{710}{1943}{Biological Process}
\strip{1534.7}{1299.4}{1564.5}{1615.9}{Cellular Component}
\strip{1534.7}{1626.6}{1564.5}{1943}{Molecular Function}
\strip{2279.4}{1299.4}{2309}{1943}{Pathway}

% --- colour bars
\cbar{756.5}{768.6}{786.4}{920.7}{2.76}{13.6}{5,7.5,10,12.5}{1}
\cbar{1592}{753.8}{1622.6}{905.4}{1.4}{8.1}{2,4,6,8}{0}
\cbar{2337.5}{768.6}{2368.6}{921}{1.59}{13.38}{2.5,5,7.5,10,12.5}{1}
\cbar{739}{1482.5}{769}{1634.4}{1.31}{5.43}{2,3,4,5}{0}
\cbar{1594}{1482.5}{1623.6}{1635}{1.41}{4.89}{2,3,4}{0}
\cbar{2338.5}{1452.3}{2369}{1604.2}{1.34}{9.0}{3,5,7}{0}

% --- Count legend dots, on a page-wide axis
\begin{axis}[hide axis, scale only axis, anchor=north west, at={(0pt,0pt)}, width=748.5pt, height=600pt,
  xmin=0, xmax=2495, ymin=0, ymax=2000, y dir=reverse, clip=false]
\addplot[scatter, only marks, mark=*, scatter src=explicit, 
  scatter/use mapped color={draw=black,fill=black},
  visualization depends on={\thisrow{d}*0.15 \as \ms},
  scatter/@pre marker code/.append style={/tikz/mark size=\ms}]
  table[x=x,y=y,meta=d]{\tabCount};
\end{axis}

\legtitle{756.5}{745}{971}
\cl{797}{1005}{10}\cl{797}{1036}{20}\cl{797}{1066.6}{30}
\legtitle{1592}{730}{955.5}
\cl{1632}{990}{40}\cl{1632}{1021}{80}\cl{1632}{1051}{120}\cl{1632}{1082}{160}
\legtitle{2337.5}{745}{971}
\cl{2378}{1005}{10}\cl{2378}{1036}{15}\cl{2378}{1066.6}{20}
\legtitle{739}{1460}{1683.6}
\cl{778}{1717.6}{5}\cl{778}{1747.8}{10}\cl{778}{1778}{15}
\legtitle{1594}{1460}{1683.6}
\cl{1633.4}{1717.6}{20}\cl{1633.4}{1747.8}{40}\cl{1633.4}{1778}{60}
\legtitle{2338.5}{1430}{1653}
\cl{2379}{1687}{3}\cl{2379}{1717.6}{5}\cl{2379}{1747.8}{7}\cl{2379}{1778}{9}\cl{2379}{1808.7}{11}

\foreach \ex in {564,1442.6,2177}{\node[font=\fa\fontsize{7.9}{9}\selectfont] at (\ex,1983.5) {Enrichment};}

% --- red boxes
\draw[boxa,line width=.65pt] (109.6,588) rectangle (541,809);
\draw[boxb,line width=.65pt] (109.6,1010) rectangle (541,1228.6);
\draw[boxb,line width=.65pt] (1130,584.4) rectangle (1359.7,626);
\draw[boxa,line width=.65pt] (1036.6,732.5) rectangle (1359.7,901);
\draw[boxa,line width=.65pt] (72.3,1326.7) rectangle (442.6,1509.3);
\draw[boxa,line width=.65pt] (952.6,1326.2) rectangle (1344,1570.6);

% --- panel letters
\plet{22}{34}{A}\plet{493}{34}{B}\plet{1256}{34}{C}\plet{1906}{34}{D}
\plet{23}{599}{E}\plet{912}{599}{F}\plet{1730}{599}{G}
\plet{23}{1277}{H}\plet{912}{1277}{I}\plet{1746}{1277}{J}
\end{tikzpicture}
\end{document}
